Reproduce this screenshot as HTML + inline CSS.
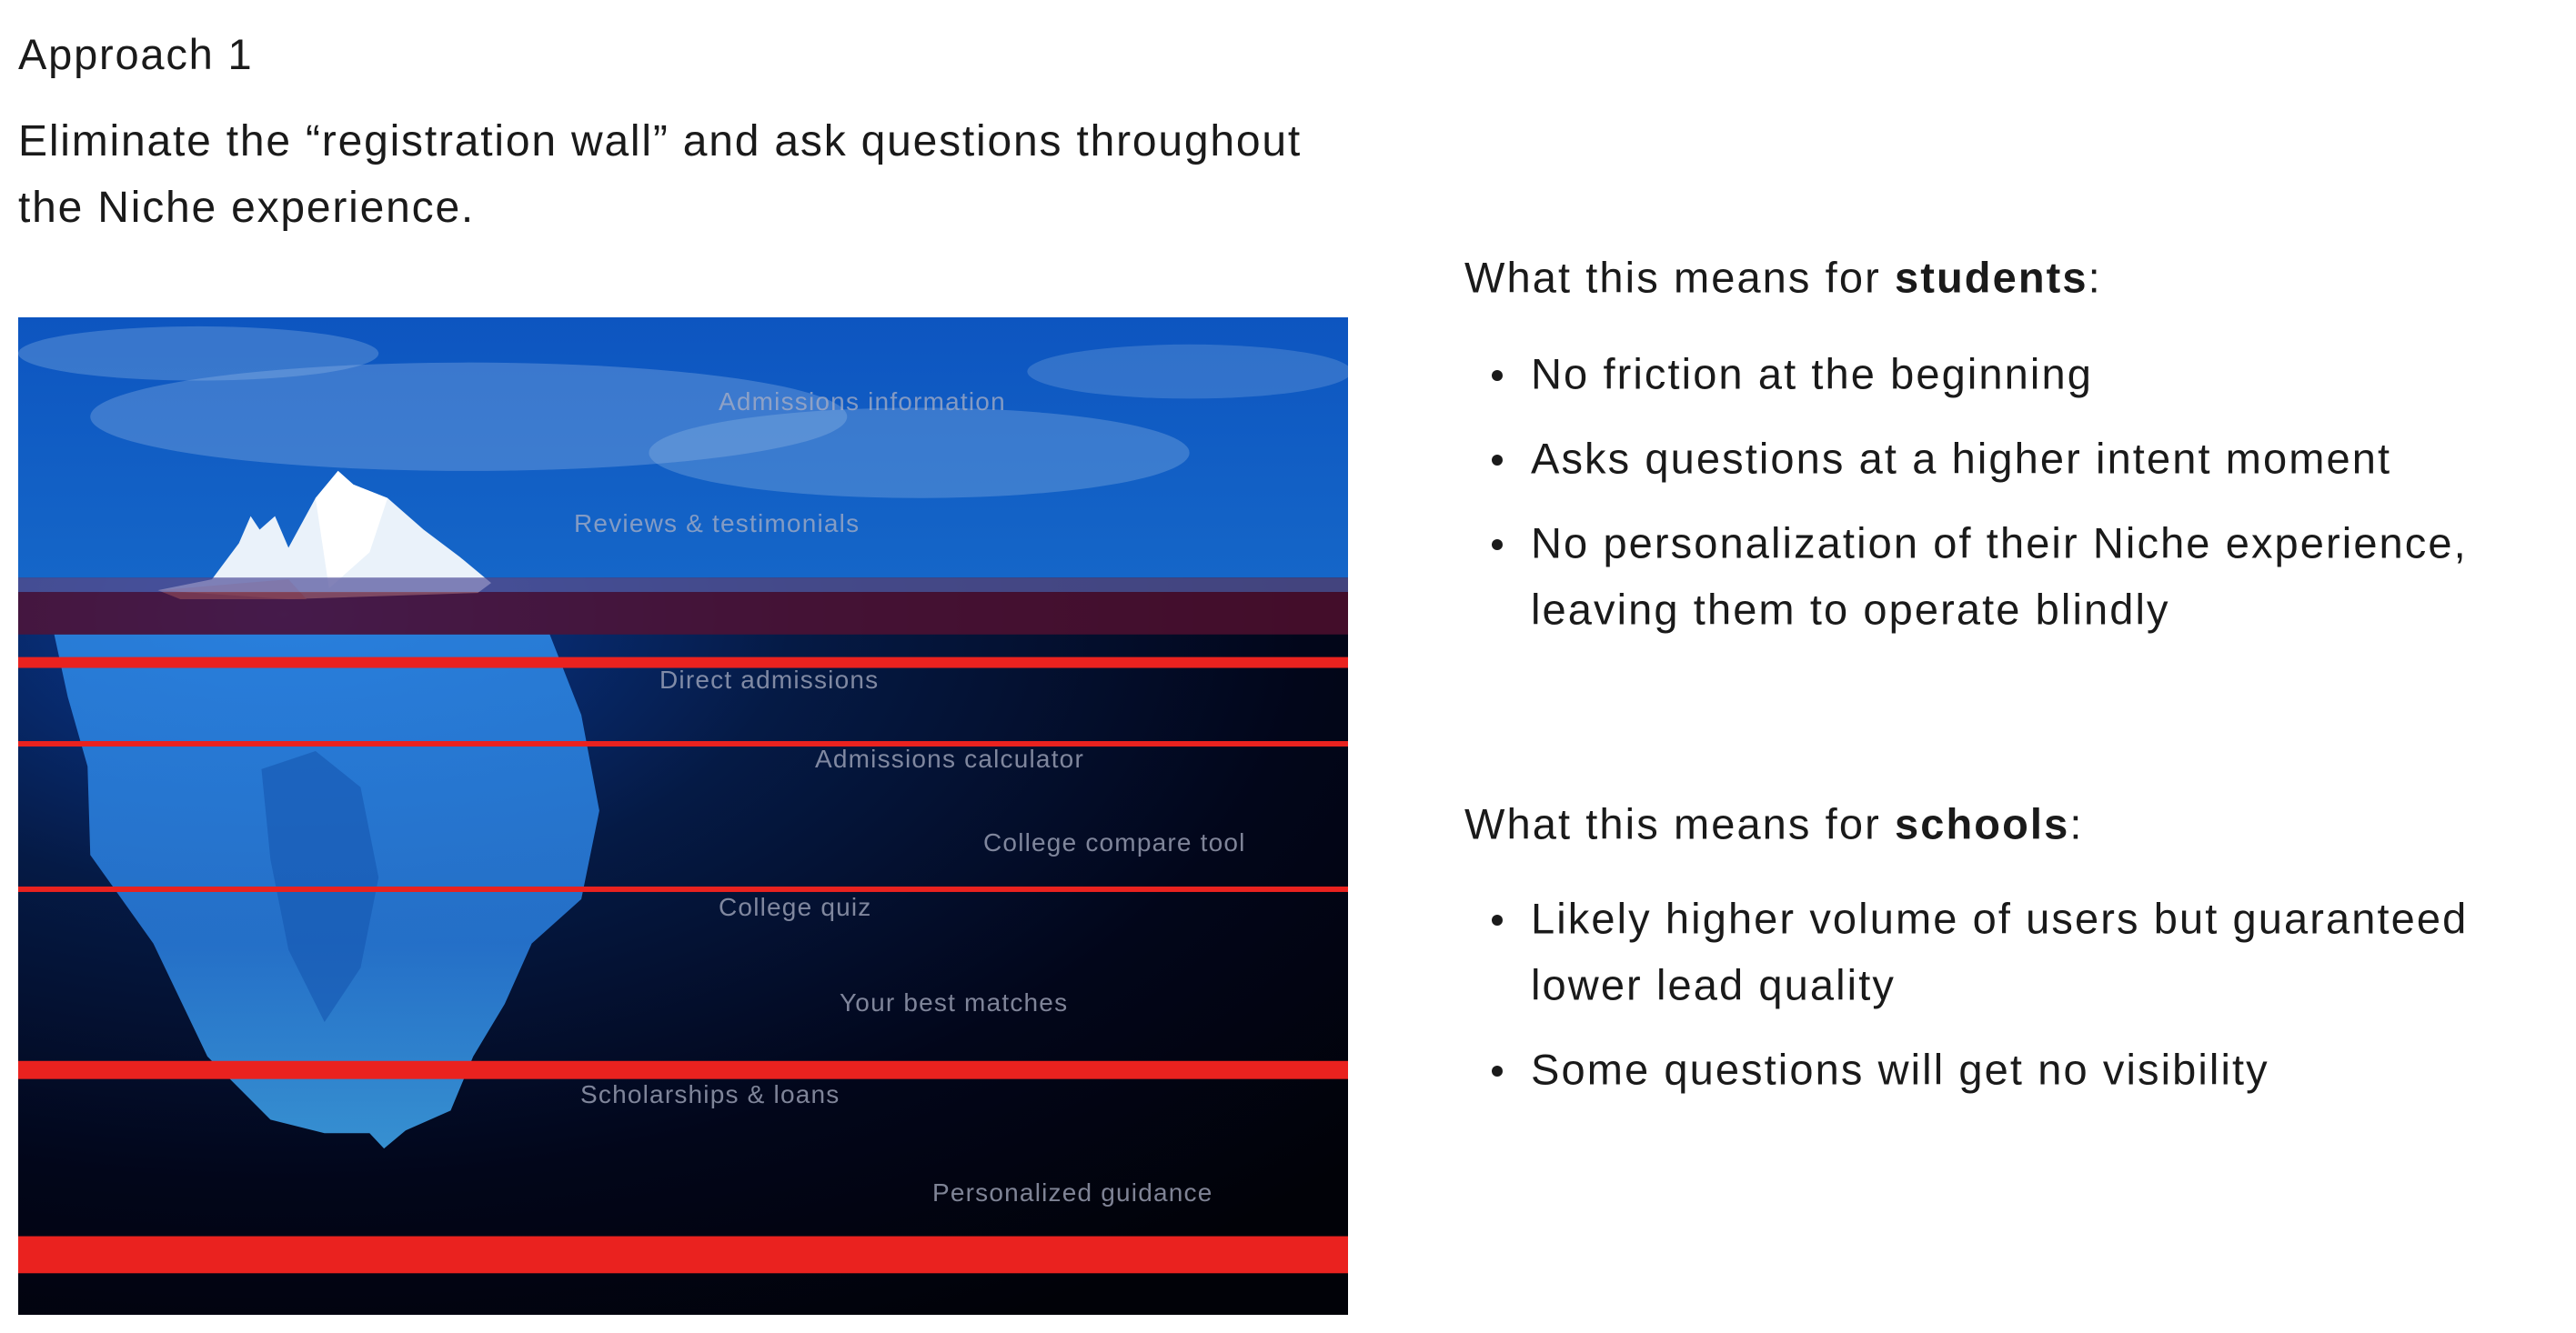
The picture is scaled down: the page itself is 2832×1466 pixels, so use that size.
<!DOCTYPE html>
<html><head><meta charset="utf-8"><style>
html,body{margin:0;padding:0;background:#fff;width:2832px;height:1466px;overflow:hidden;font-family:"Liberation Sans",sans-serif;color:#1a1a1a}
.t{position:absolute;white-space:nowrap;line-height:1;letter-spacing:1.8px}
.lbl{position:absolute;white-space:nowrap;font-size:28px;color:rgba(170,175,195,0.75);line-height:1;transform:translateY(-50%);letter-spacing:1.2px}
.r{position:absolute;font-size:47px;white-space:nowrap;line-height:1;transform:translateY(-50%);letter-spacing:2.1px}
.dot{position:absolute;width:12px;height:12px;border-radius:50%;background:#1a1a1a;transform:translate(-50%,-50%)}
</style></head><body>
<div class="t" style="left:20px;top:36px;font-size:47px">Approach 1</div>
<div class="t" style="left:20px;top:132px;font-size:48px">Eliminate the “registration wall” and ask questions throughout</div>
<div class="t" style="left:20px;top:205px;font-size:48px">the Niche experience.</div>

<svg style="position:absolute;left:20px;top:349px" width="1462" height="1097" viewBox="0 0 1476 1104" preserveAspectRatio="none">
<defs>
<linearGradient id="sky" x1="0" y1="0" x2="0" y2="1"><stop offset="0" stop-color="#0d55c0"/><stop offset="1" stop-color="#1566c8"/></linearGradient>
<radialGradient id="sea" cx="0.2" cy="0.05" r="1.1"><stop offset="0" stop-color="#0a3c9a"/><stop offset="0.35" stop-color="#051a45"/><stop offset="0.7" stop-color="#02061a"/><stop offset="1" stop-color="#010208"/></radialGradient>
<linearGradient id="ice" x1="0" y1="0" x2="0" y2="1"><stop offset="0" stop-color="#2e8ae8"/><stop offset="0.6" stop-color="#2a7fe0"/><stop offset="1" stop-color="#40a8f0"/></linearGradient>
</defs>
<rect width="1476" height="290" fill="url(#sky)"/>
<ellipse cx="500" cy="110" rx="420" ry="60" fill="#8fb4e6" opacity="0.35"/>
<ellipse cx="1000" cy="150" rx="300" ry="50" fill="#9cbfe8" opacity="0.3"/>
<ellipse cx="200" cy="40" rx="200" ry="30" fill="#9cbfe8" opacity="0.3"/>
<ellipse cx="1300" cy="60" rx="180" ry="30" fill="#9cbfe8" opacity="0.25"/>
<rect y="288" width="1476" height="816" fill="url(#sea)"/>
<path d="M40 351 L590 351 L625 440 L645 546 L625 644 L570 693 L540 760 L505 818 L480 878 L430 900 L406 920 L390 903 L340 903 L280 888 L210 818 L150 693 L80 595 L77 497 L55 420 Z" fill="url(#ice)" opacity="0.85"/>
<path d="M270 500 L330 480 L380 520 L400 620 L380 720 L340 780 L300 700 L280 600 Z" fill="#1656b0" opacity="0.6"/>
<path d="M155 302 L215 290 L245 250 L258 220 L268 235 L285 220 L300 255 L330 200 L355 170 L372 185 L410 200 L450 235 L490 265 L525 294 L510 305 L300 312 Z" fill="#eaf2fa"/>
<path d="M330 200 L355 170 L372 185 L410 200 L390 260 L345 300 Z" fill="#ffffff"/>
<path d="M155 302 L300 290 L320 312 L180 312 Z" fill="#f2c8c0" opacity="0.8"/>
<rect y="288" width="1476" height="16" fill="#5a5aa0" opacity="0.75"/>
<rect y="304" width="1476" height="47" fill="#5a1030" opacity="0.75"/>
<rect y="376" width="1476" height="12" fill="#ea221f"/>
<rect y="469" width="1476" height="6" fill="#ea221f"/>
<rect y="630" width="1476" height="6" fill="#ea221f"/>
<rect y="823" width="1476" height="20" fill="#ea221f"/>
<rect y="1017" width="1476" height="41" fill="#ea221f"/>
</svg>

<div class="lbl" style="left:790px;top:442px">Admissions information</div>
<div class="lbl" style="left:631px;top:576px">Reviews &amp; testimonials</div>
<div class="lbl" style="left:725px;top:748px">Direct admissions</div>
<div class="lbl" style="left:896px;top:835px">Admissions calculator</div>
<div class="lbl" style="left:1081px;top:927px">College compare tool</div>
<div class="lbl" style="left:790px;top:998px">College quiz</div>
<div class="lbl" style="left:923px;top:1103px">Your best matches</div>
<div class="lbl" style="left:638px;top:1204px">Scholarships &amp; loans</div>
<div class="lbl" style="left:1025px;top:1312px">Personalized guidance</div>

<div class="r" style="left:1610px;top:305px">What this means for <b>students</b>:</div>
<div class="dot" style="left:1646px;top:413px"></div><div class="r" style="left:1683px;top:411px">No friction at the beginning</div>
<div class="dot" style="left:1646px;top:506px"></div><div class="r" style="left:1683px;top:504px">Asks questions at a higher intent moment</div>
<div class="dot" style="left:1646px;top:599px"></div><div class="r" style="left:1683px;top:597px">No personalization of their Niche experience,</div>
<div class="r" style="left:1683px;top:670px">leaving them to operate blindly</div>

<div class="r" style="left:1610px;top:906px">What this means for <b>schools</b>:</div>
<div class="dot" style="left:1646px;top:1012px"></div><div class="r" style="left:1683px;top:1010px">Likely higher volume of users but guaranteed</div>
<div class="r" style="left:1683px;top:1083px">lower lead quality</div>
<div class="dot" style="left:1646px;top:1178px"></div><div class="r" style="left:1683px;top:1176px">Some questions will get no visibility</div>
</body></html>
